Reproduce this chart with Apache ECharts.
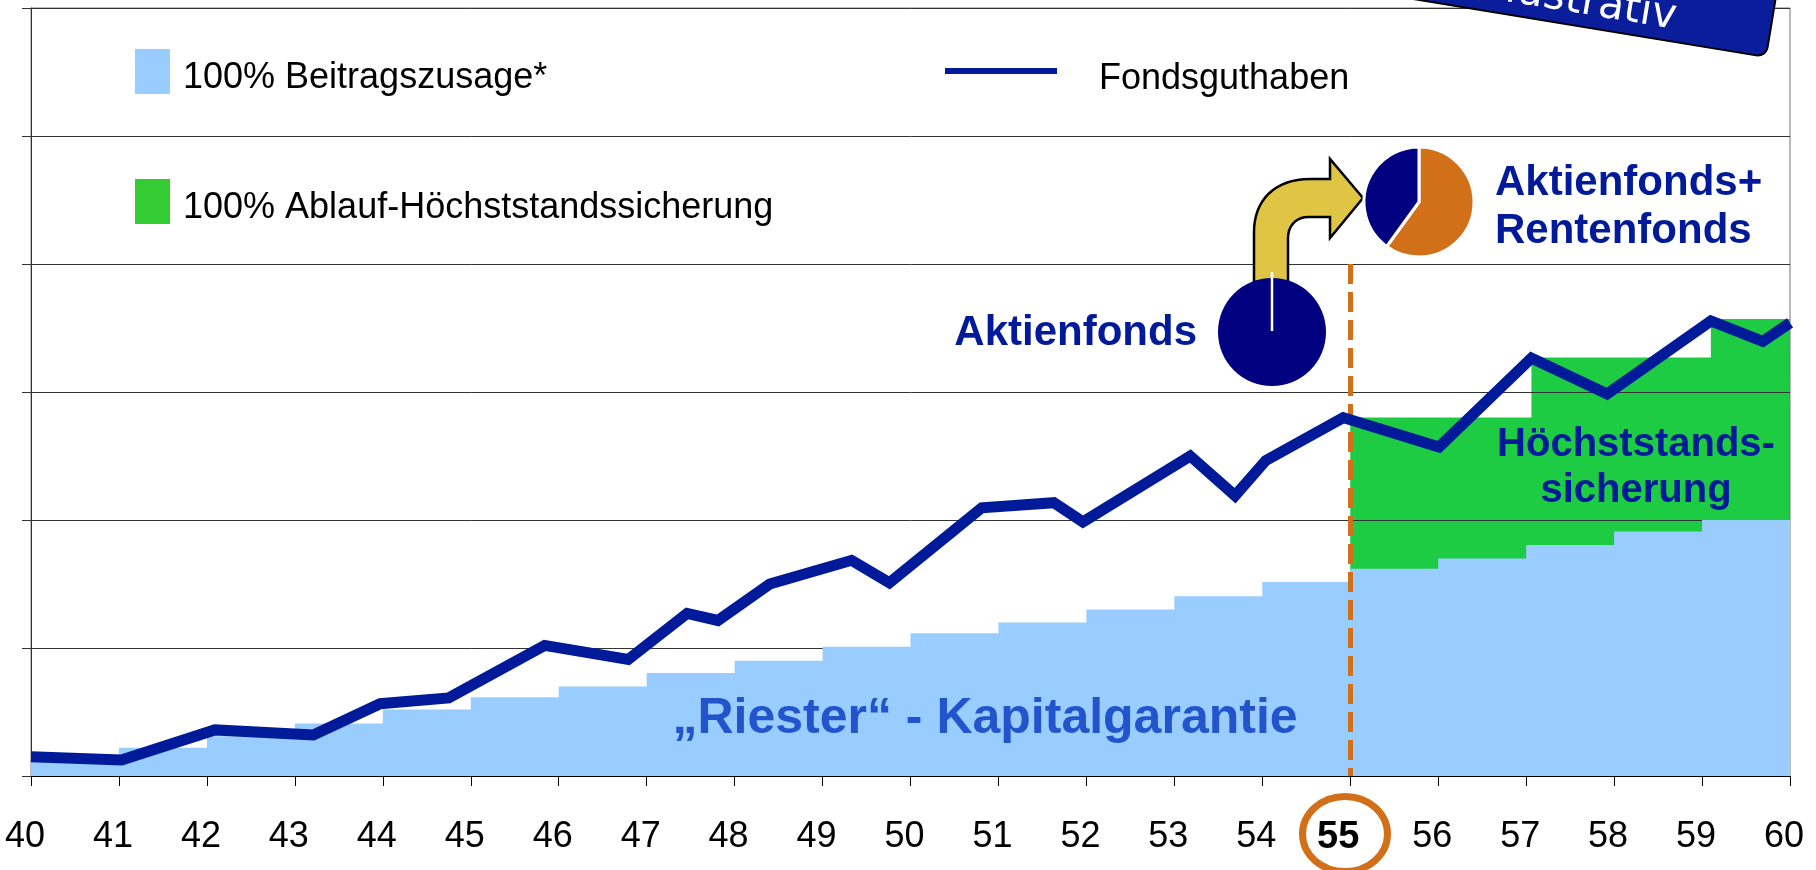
<!DOCTYPE html>
<html><head><meta charset="utf-8">
<script src="https://cdn.jsdelivr.net/npm/echarts@6/dist/echarts.min.js"></script>
<style>html,body{margin:0;padding:0;background:#fff}#c{width:1816px;height:870px}</style>
</head><body><div id="c"></div>
<script>
// ---- data ----
const years = [40,41,42,43,44,45,46,47,48,49,50,51,52,53,54,55,56,57,58,59,60];
const beitragY = [0.12,0.22,0.31,0.41,0.52,0.615,0.70,0.805,0.90,1.01,1.115,1.20,1.30,1.405,1.515,1.62,1.70,1.805,1.91,2.0,2.0];
const hwmX = [55, 57.06, 59.10, 60];
const hwmY = [2.80, 3.27, 3.57, 3.57];
const fondsX = [40.0,41.03,42.09,43.21,43.97,44.75,45.84,46.79,47.46,47.81,48.40,49.33,49.76,50.81,51.63,51.96,53.18,53.69,54.04,54.92,56.01,57.06,57.92,59.10,59.69,60.0];
const fondsY = [0.15,0.125,0.36,0.32,0.565,0.61,1.02,0.91,1.27,1.215,1.50,1.685,1.51,2.095,2.135,1.985,2.50,2.19,2.465,2.80,2.57,3.265,2.985,3.555,3.395,3.54];
const pieBefore = [{name:'Aktienfonds', value:100}];
const pieAfter = [{name:'Rentenfonds', value:60},{name:'Aktienfonds', value:40}];
const switchYear = 55;
const guardTop = 4;

const F = '"Liberation Sans", Arial, sans-serif';
const NAVY = '#000080', ORANGE = '#D2701A', DBLUE = '#001a99';

const zip = (xs, ys) => xs.map((x,i)=>[x, ys[i]]);
function cubic(p0,p1,p2,p3,n){const out=[];for(let i=0;i<=n;i++){const t=i/n,u=1-t;
  out.push([u*u*u*p0[0]+3*u*u*t*p1[0]+3*u*t*t*p2[0]+t*t*t*p3[0], u*u*u*p0[1]+3*u*u*t*p1[1]+3*u*t*t*p2[1]+t*t*t*p3[1]]);}return out;}
const arrowPts = [[1254,282]]
  .concat(cubic([1254,232],[1254,200],[1275,179],[1310,179],16))
  .concat([[1330,179],[1330,159],[1363,198],[1330,238],[1330,217]])
  .concat(cubic([1308,217],[1296,217],[1288,226],[1288,238],10))
  .concat([[1288,282]]);

const legendText = (padTop, padLeft) => ({
  fontSize:36,fontFamily:F,color:'#000',
  rich:{a:{fontSize:36,fontFamily:F,color:'#000',padding:[padTop,0,0,padLeft]}}
});
const legendFmt = name => '{a|' + name + '}';

const chart = echarts.init(document.getElementById('c'), null, {renderer:'canvas'});

chart.setOption({
  animation:false,
  backgroundColor:'#fff',
  grid:{left:31,right:26,top:8,bottom:94,show:true,borderColor:'#777',borderWidth:1,containLabel:false,outerBoundsMode:'none'},
  legend:[
    {data:['100% Beitragszusage*'],left:135,top:49,padding:0,itemWidth:35,itemHeight:45,icon:'rect',selectedMode:false,
     formatter:legendFmt,textStyle:legendText(14,8)},
    {data:['100% Ablauf-Höchststandssicherung'],left:135,top:179,padding:0,itemWidth:35,itemHeight:45,icon:'rect',selectedMode:false,
     formatter:legendFmt,textStyle:legendText(14,8)},
    {data:['Fondsguthaben'],left:945,top:61,padding:0,itemWidth:112,itemHeight:6,icon:'rect',selectedMode:false,
     formatter:legendFmt,textStyle:legendText(16,37)}
  ],
  xAxis:{type:'value',min:40,max:60,interval:1,
    axisLine:{lineStyle:{color:'#000',width:1}},
    axisTick:{length:10,lineStyle:{color:'#000'}},
    splitLine:{show:false},
    axisLabel:{margin:43,fontSize:36,fontFamily:F,color:'#000',padding:[0,12,0,0],
      formatter:v => v===switchYear ? '{b|'+v+'}' : String(v),
      rich:{b:{fontSize:38,fontWeight:'bold',fontFamily:F,color:'#000',padding:[0,12,0,0]}}}
  },
  yAxis:{type:'value',min:0,max:6,interval:1,
    axisLine:{show:true,lineStyle:{color:'#333'}},
    axisTick:{show:true,length:9,lineStyle:{color:'#333'}},
    axisLabel:{show:false},
    splitLine:{lineStyle:{color:'#333',width:1}}
  },
  series:[
    {name:'100% Ablauf-Höchststandssicherung',type:'line',step:'end',symbol:'none',z:-1,silent:true,
     data:zip(hwmX,hwmY),lineStyle:{width:0,color:'#1ecc44'},itemStyle:{color:'#33cc33'},
     areaStyle:{color:'#1ecc44',opacity:1}},
    {name:'100% Beitragszusage*',type:'line',step:'end',symbol:'none',z:3,silent:true,
     data:zip(years,beitragY),lineStyle:{width:0,color:'#99ccff'},itemStyle:{color:'#99ccff'},
     areaStyle:{color:'#99ccff',opacity:1}},
    {name:'Fondsguthaben',type:'line',symbol:'none',z:6,silent:true,
     data:zip(fondsX,fondsY),itemStyle:{color:DBLUE},
     lineStyle:{color:DBLUE,width:11,join:'miter',miterLimit:4},
     markLine:{silent:true,symbol:['none','none'],label:{show:false},z:4,
       lineStyle:{color:ORANGE,width:5,type:[20,8]},
       data:[[{coord:[switchYear,guardTop]},{coord:[switchYear,0]}]]}},
    {name:'vorher',type:'pie',center:[1272,332],radius:54,silent:true,z:8,
     label:{show:false},labelLine:{show:false},
     itemStyle:{color:NAVY},data:pieBefore},
    {name:'nachher',type:'pie',center:[1419,202],radius:55,startAngle:90,clockwise:true,silent:true,z:8,
     label:{show:false},labelLine:{show:false},
     itemStyle:{borderColor:'#fff',borderWidth:3},
     data:pieAfter.map((d,i)=>({...d,itemStyle:{color:i===0?ORANGE:NAVY}}))}
  ],
  graphic:[
    {type:'polygon',z:1,shape:{points:arrowPts},style:{fill:'#E0C444',stroke:'#000',lineWidth:2.5}},
    {type:'line',z:50,shape:{x1:1272,y1:272,x2:1272,y2:331},style:{stroke:'#fff',lineWidth:2.5}},
    {type:'ellipse',z:50,shape:{cx:1345,cy:834,rx:42.5,ry:37.5},style:{fill:'none',stroke:ORANGE,lineWidth:7}},
    {type:'text',z:50,style:{text:'Aktienfonds',x:1197,y:333,fontSize:42,fontWeight:'bold',fontFamily:F,fill:DBLUE,align:'right',verticalAlign:'middle'}},
    {type:'text',z:50,style:{text:'Aktienfonds+\nRentenfonds',x:1495,y:207,fontSize:42,lineHeight:48,fontWeight:'bold',fontFamily:F,fill:DBLUE,align:'left',verticalAlign:'middle'}},
    {type:'text',z:50,style:{text:'Höchststands-\nsicherung',x:1636,y:468,fontSize:40,lineHeight:46,fontWeight:'bold',fontFamily:F,fill:DBLUE,align:'center',verticalAlign:'middle'}},
    {type:'text',z:50,style:{text:'\u201ERiester\u201C - Kapitalgarantie',x:985,y:719,fontSize:50,fontWeight:'bold',fontFamily:F,fill:'#2255cc',align:'center',verticalAlign:'middle'}},
    {type:'group',z:60,x:1766,y:57,rotation:-0.163,children:[
      {type:'rect',z:60,shape:{x:-387,y:-90,width:387,height:90,r:10},style:{fill:'#0a1e9c',stroke:'#000',lineWidth:2}},
      {type:'text',z:61,style:{text:'Illustrativ',x:-95,y:-24,fontSize:42,fontFamily:'"DejaVu Sans", Verdana, sans-serif',fill:'#fff',align:'right',verticalAlign:'middle'}}
    ]}
  ]
});
</script></body></html>
